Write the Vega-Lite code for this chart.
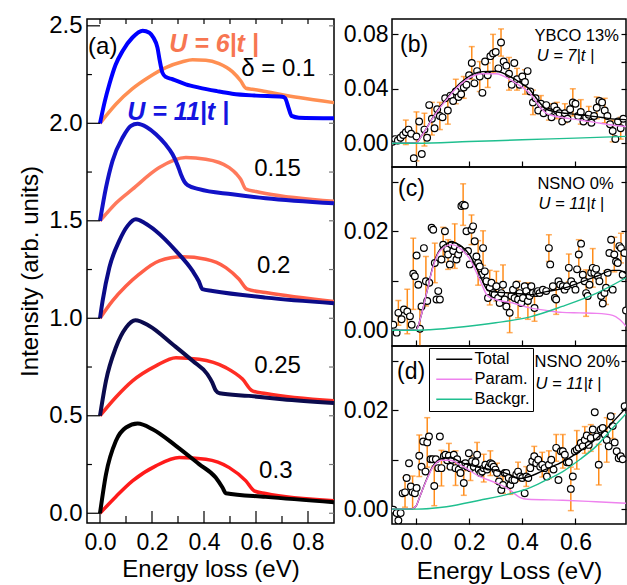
{
"$schema": "https://vega.github.io/schema/vega-lite/v6.json",
"background": "white",
"padding": {"left": 17, "top": 13, "right": 0, "bottom": 0},
"config": {
 "font": "Liberation Sans",
 "view": {"stroke": "black", "strokeWidth": 1.5},
 "axis": {"labelFont": "Liberation Sans", "titleFont": "Liberation Sans", "labelFontSize": 23, "titleFontSize": 24, "titleFontWeight": "normal", "tickColor": "black", "labelColor": "black", "titleColor": "black", "domain": false, "grid": false, "tickWidth": 1.2, "labelFlush": false}
},
"datasets": {
 "th": [
  {"x":-0.05,"x2":0,"y":0},{"x":-0.05,"x2":-0.031,"y":0.25},{"x":-0.05,"x2":0,"y":0.5},{"x":-0.05,"x2":-0.031,"y":0.75},{"x":-0.05,"x2":0,"y":1},{"x":-0.05,"x2":-0.031,"y":1.25},{"x":-0.05,"x2":0,"y":1.5},{"x":-0.05,"x2":-0.031,"y":1.75},{"x":-0.05,"x2":0,"y":2},{"x":-0.05,"x2":-0.031,"y":2.25},{"x":-0.05,"x2":0,"y":2.5}
 ],
 "tg": [
  {"x":0.881,"x2":0.9,"y":0},{"x":0.881,"x2":0.9,"y":0.25},{"x":0.881,"x2":0.9,"y":0.5},{"x":0.881,"x2":0.9,"y":0.75},{"x":0.881,"x2":0.9,"y":1},{"x":0.881,"x2":0.9,"y":1.25},{"x":0.881,"x2":0.9,"y":1.5},{"x":0.881,"x2":0.9,"y":1.75},{"x":0.881,"x2":0.9,"y":2},{"x":0.881,"x2":0.9,"y":2.25},{"x":0.881,"x2":0.9,"y":2.5}
 ],
 "tv": [
  {"x":0,"y":-0.05,"y2":0.012},{"x":0.1,"y":-0.05,"y2":-0.014},{"x":0.2,"y":-0.05,"y2":0.012},{"x":0.3,"y":-0.05,"y2":-0.014},{"x":0.4,"y":-0.05,"y2":0.012},{"x":0.5,"y":-0.05,"y2":-0.014},{"x":0.6,"y":-0.05,"y2":0.012},{"x":0.7,"y":-0.05,"y2":-0.014},{"x":0.8,"y":-0.05,"y2":0.012},
  {"x":0,"y":2.509,"y2":2.535},{"x":0.1,"y":2.509,"y2":2.535},{"x":0.2,"y":2.509,"y2":2.535},{"x":0.3,"y":2.509,"y2":2.535},{"x":0.4,"y":2.509,"y2":2.535},{"x":0.5,"y":2.509,"y2":2.535},{"x":0.6,"y":2.509,"y2":2.535},{"x":0.7,"y":2.509,"y2":2.535},{"x":0.8,"y":2.509,"y2":2.535}
 ],
 "cv": [
  {"s":"a6","x":0,"y":2.0},{"s":"a6","x":0.03,"y":2.05},{"s":"a6","x":0.061,"y":2.098},{"s":"a6","x":0.125,"y":2.178},{"s":"a6","x":0.189,"y":2.238},{"s":"a6","x":0.253,"y":2.286},{"s":"a6","x":0.317,"y":2.316},{"s":"a6","x":0.356,"y":2.326},{"s":"a6","x":0.407,"y":2.324},{"s":"a6","x":0.458,"y":2.306},{"s":"a6","x":0.509,"y":2.265},{"s":"a6","x":0.541,"y":2.218},{"s":"a6","x":0.561,"y":2.18},{"s":"a6","x":0.586,"y":2.175},{"s":"a6","x":0.637,"y":2.163},{"s":"a6","x":0.765,"y":2.132},{"s":"a6","x":0.9,"y":2.106},
  {"s":"b6","x":0,"y":1.5},{"s":"b6","x":0.03,"y":1.545},{"s":"b6","x":0.061,"y":1.59},{"s":"b6","x":0.125,"y":1.662},{"s":"b6","x":0.228,"y":1.773},{"s":"b6","x":0.33,"y":1.824},{"s":"b6","x":0.407,"y":1.816},{"s":"b6","x":0.497,"y":1.773},{"s":"b6","x":0.525,"y":1.74},{"s":"b6","x":0.541,"y":1.713},{"s":"b6","x":0.561,"y":1.662},{"s":"b6","x":0.6,"y":1.65},{"s":"b6","x":0.637,"y":1.64},{"s":"b6","x":0.9,"y":1.6},
  {"s":"c6","x":0,"y":1.0},{"s":"c6","x":0.048,"y":1.089},{"s":"c6","x":0.1,"y":1.165},{"s":"c6","x":0.151,"y":1.226},{"s":"c6","x":0.228,"y":1.294},{"s":"c6","x":0.317,"y":1.315},{"s":"c6","x":0.407,"y":1.303},{"s":"c6","x":0.484,"y":1.26},{"s":"c6","x":0.535,"y":1.2},{"s":"c6","x":0.567,"y":1.149},{"s":"c6","x":0.637,"y":1.132},{"s":"c6","x":0.9,"y":1.086},
  {"s":"d6","x":0,"y":0.5},{"s":"d6","x":0.061,"y":0.595},{"s":"d6","x":0.125,"y":0.679},{"s":"d6","x":0.215,"y":0.756},{"s":"d6","x":0.292,"y":0.798},{"s":"d6","x":0.381,"y":0.79},{"s":"d6","x":0.484,"y":0.747},{"s":"d6","x":0.548,"y":0.688},{"s":"d6","x":0.586,"y":0.628},{"s":"d6","x":0.637,"y":0.614},{"s":"d6","x":0.9,"y":0.577},
  {"s":"e6","x":0,"y":0},{"s":"e6","x":0.061,"y":0.085},{"s":"e6","x":0.125,"y":0.166},{"s":"e6","x":0.215,"y":0.243},{"s":"e6","x":0.305,"y":0.286},{"s":"e6","x":0.407,"y":0.277},{"s":"e6","x":0.497,"y":0.234},{"s":"e6","x":0.561,"y":0.166},{"s":"e6","x":0.593,"y":0.115},{"s":"e6","x":0.637,"y":0.101},{"s":"e6","x":0.9,"y":0.064},
  {"s":"a11","x":0,"y":2.0},{"s":"a11","x":0.018,"y":2.11},{"s":"a11","x":0.036,"y":2.2},{"s":"a11","x":0.06,"y":2.3},{"s":"a11","x":0.087,"y":2.371},{"s":"a11","x":0.125,"y":2.44},{"s":"a11","x":0.164,"y":2.475},{"s":"a11","x":0.19,"y":2.465},{"s":"a11","x":0.205,"y":2.44},{"s":"a11","x":0.221,"y":2.388},{"s":"a11","x":0.23,"y":2.32},{"s":"a11","x":0.24,"y":2.26},{"s":"a11","x":0.253,"y":2.238},{"s":"a11","x":0.279,"y":2.226},{"s":"a11","x":0.33,"y":2.2},{"s":"a11","x":0.381,"y":2.183},{"s":"a11","x":0.45,"y":2.165},{"s":"a11","x":0.508,"y":2.152},{"s":"a11","x":0.6,"y":2.142},{"s":"a11","x":0.701,"y":2.136},{"s":"a11","x":0.712,"y":2.129},{"s":"a11","x":0.725,"y":2.08},{"s":"a11","x":0.737,"y":2.038},{"s":"a11","x":0.765,"y":2.029},{"s":"a11","x":0.9,"y":2.026},
  {"s":"b11","x":0,"y":1.5},{"s":"b11","x":0.023,"y":1.67},{"s":"b11","x":0.048,"y":1.807},{"s":"b11","x":0.087,"y":1.927},{"s":"b11","x":0.119,"y":1.987},{"s":"b11","x":0.144,"y":1.998},{"s":"b11","x":0.18,"y":1.98},{"s":"b11","x":0.215,"y":1.944},{"s":"b11","x":0.25,"y":1.895},{"s":"b11","x":0.279,"y":1.841},{"s":"b11","x":0.3,"y":1.78},{"s":"b11","x":0.311,"y":1.739},{"s":"b11","x":0.325,"y":1.7},{"s":"b11","x":0.337,"y":1.683},{"s":"b11","x":0.381,"y":1.662},{"s":"b11","x":0.509,"y":1.636},{"s":"b11","x":0.637,"y":1.616},{"s":"b11","x":0.9,"y":1.59},
  {"s":"c11","x":0,"y":1.0},{"s":"c11","x":0.01,"y":1.089},{"s":"c11","x":0.036,"y":1.26},{"s":"c11","x":0.074,"y":1.397},{"s":"c11","x":0.106,"y":1.474},{"s":"c11","x":0.138,"y":1.508},{"s":"c11","x":0.17,"y":1.49},{"s":"c11","x":0.215,"y":1.448},{"s":"c11","x":0.292,"y":1.346},{"s":"c11","x":0.356,"y":1.243},{"s":"c11","x":0.38,"y":1.19},{"s":"c11","x":0.394,"y":1.149},{"s":"c11","x":0.433,"y":1.14},{"s":"c11","x":0.637,"y":1.106},{"s":"c11","x":0.9,"y":1.077},
  {"s":"d11","x":0,"y":0.5},{"s":"d11","x":0.023,"y":0.679},{"s":"d11","x":0.061,"y":0.85},{"s":"d11","x":0.1,"y":0.952},{"s":"d11","x":0.136,"y":0.99},{"s":"d11","x":0.19,"y":0.961},{"s":"d11","x":0.279,"y":0.867},{"s":"d11","x":0.356,"y":0.782},{"s":"d11","x":0.413,"y":0.713},{"s":"d11","x":0.432,"y":0.67},{"s":"d11","x":0.445,"y":0.63},{"s":"d11","x":0.46,"y":0.615},{"s":"d11","x":0.573,"y":0.602},{"s":"d11","x":0.701,"y":0.585},{"s":"d11","x":0.9,"y":0.565},
  {"s":"e11","x":0,"y":0},{"s":"e11","x":0.023,"y":0.2},{"s":"e11","x":0.061,"y":0.371},{"s":"e11","x":0.1,"y":0.44},{"s":"e11","x":0.145,"y":0.46},{"s":"e11","x":0.202,"y":0.431},{"s":"e11","x":0.292,"y":0.346},{"s":"e11","x":0.381,"y":0.252},{"s":"e11","x":0.445,"y":0.183},{"s":"e11","x":0.471,"y":0.132},{"s":"e11","x":0.484,"y":0.103},{"s":"e11","x":0.637,"y":0.084},{"s":"e11","x":0.9,"y":0.057}
 ],
 "la": [
  {"x":-0.046,"y":2.392,"t":"(a)"},{"x":0.543,"y":2.276,"t":"δ = 0.1"},{"x":0.593,"y":1.764,"t":"0.15"},{"x":0.604,"y":1.269,"t":"0.2"},{"x":0.593,"y":0.756,"t":"0.25"},{"x":0.612,"y":0.217,"t":"0.3"}
 ],
 "lb": [
  {"k":"Total","x":-0.09,"y":0},{"k":"Total","x":0,"y":0},{"k":"Total","x":0.02,"y":0.005},{"k":"Total","x":0.04,"y":0.011},{"k":"Total","x":0.065,"y":0.0194},{"k":"Total","x":0.09,"y":0.0266},{"k":"Total","x":0.115,"y":0.0327},{"k":"Total","x":0.14,"y":0.0389},{"k":"Total","x":0.19,"y":0.0479},{"k":"Total","x":0.25,"y":0.0526},{"k":"Total","x":0.3,"y":0.0529},{"k":"Total","x":0.365,"y":0.0478},{"k":"Total","x":0.4,"y":0.0435},{"k":"Total","x":0.4275,"y":0.0397},{"k":"Total","x":0.45,"y":0.0338},{"k":"Total","x":0.465,"y":0.0299},{"k":"Total","x":0.49,"y":0.0251},{"k":"Total","x":0.52,"y":0.0233},{"k":"Total","x":0.56,"y":0.022},{"k":"Total","x":0.6,"y":0.0213},{"k":"Total","x":0.65,"y":0.0201},{"k":"Total","x":0.7,"y":0.0189},{"k":"Total","x":0.75,"y":0.0177},{"k":"Total","x":0.79,"y":0.0173},
  {"k":"Param.","x":-0.09,"y":0},{"k":"Param.","x":0,"y":0},{"k":"Param.","x":0.02,"y":0.005},{"k":"Param.","x":0.04,"y":0.011},{"k":"Param.","x":0.065,"y":0.019},{"k":"Param.","x":0.09,"y":0.026},{"k":"Param.","x":0.115,"y":0.032},{"k":"Param.","x":0.14,"y":0.038},{"k":"Param.","x":0.19,"y":0.0467},{"k":"Param.","x":0.25,"y":0.051},{"k":"Param.","x":0.3,"y":0.051},{"k":"Param.","x":0.365,"y":0.0455},{"k":"Param.","x":0.4,"y":0.041},{"k":"Param.","x":0.4275,"y":0.037},{"k":"Param.","x":0.45,"y":0.031},{"k":"Param.","x":0.465,"y":0.027},{"k":"Param.","x":0.49,"y":0.022},{"k":"Param.","x":0.52,"y":0.02},{"k":"Param.","x":0.56,"y":0.0185},{"k":"Param.","x":0.6,"y":0.0175},{"k":"Param.","x":0.65,"y":0.016},{"k":"Param.","x":0.7,"y":0.0145},{"k":"Param.","x":0.75,"y":0.013},{"k":"Param.","x":0.79,"y":0.0123},
  {"k":"Backgr.","x":-0.09,"y":0},{"k":"Backgr.","x":0,"y":0},{"k":"Backgr.","x":0.2,"y":0.0012},{"k":"Backgr.","x":0.4,"y":0.0025},{"k":"Backgr.","x":0.6,"y":0.0037},{"k":"Backgr.","x":0.79,"y":0.005}
 ],
 "lc": [
  {"k":"Total","x":-0.09,"y":0},{"k":"Total","x":0,"y":0},{"k":"Total","x":0.02,"y":0.003},{"k":"Total","x":0.04,"y":0.0075},{"k":"Total","x":0.065,"y":0.0131},{"k":"Total","x":0.09,"y":0.0163},{"k":"Total","x":0.134,"y":0.0178},{"k":"Total","x":0.165,"y":0.0172},{"k":"Total","x":0.2,"y":0.0154},{"k":"Total","x":0.24,"y":0.0112},{"k":"Total","x":0.27,"y":0.0081},{"k":"Total","x":0.3,"y":0.0077},{"k":"Total","x":0.365,"y":0.0075},{"k":"Total","x":0.43,"y":0.0072},{"k":"Total","x":0.49,"y":0.0078},{"k":"Total","x":0.55,"y":0.0084},{"k":"Total","x":0.615,"y":0.0096},{"k":"Total","x":0.68,"y":0.0109},{"k":"Total","x":0.74,"y":0.0121},{"k":"Total","x":0.765,"y":0.0121},{"k":"Total","x":0.79,"y":0.0114},
  {"k":"Param.","x":-0.09,"y":0},{"k":"Param.","x":0,"y":0},{"k":"Param.","x":0.02,"y":0.003},{"k":"Param.","x":0.04,"y":0.0075},{"k":"Param.","x":0.065,"y":0.0129},{"k":"Param.","x":0.09,"y":0.016},{"k":"Param.","x":0.134,"y":0.0173},{"k":"Param.","x":0.165,"y":0.0166},{"k":"Param.","x":0.2,"y":0.0146},{"k":"Param.","x":0.24,"y":0.0102},{"k":"Param.","x":0.27,"y":0.0069},{"k":"Param.","x":0.3,"y":0.0062},{"k":"Param.","x":0.365,"y":0.0055},{"k":"Param.","x":0.43,"y":0.0045},{"k":"Param.","x":0.49,"y":0.004},{"k":"Param.","x":0.55,"y":0.0036},{"k":"Param.","x":0.615,"y":0.0035},{"k":"Param.","x":0.68,"y":0.0034},{"k":"Param.","x":0.74,"y":0.003},{"k":"Param.","x":0.765,"y":0.0022},{"k":"Param.","x":0.79,"y":0.0008},
  {"k":"Backgr.","x":-0.09,"y":0},{"k":"Backgr.","x":0,"y":0},{"k":"Backgr.","x":0.0525,"y":0.0001},{"k":"Backgr.","x":0.18,"y":0.0007},{"k":"Backgr.","x":0.3,"y":0.0015},{"k":"Backgr.","x":0.43,"y":0.0027},{"k":"Backgr.","x":0.55,"y":0.0048},{"k":"Backgr.","x":0.68,"y":0.0075},{"k":"Backgr.","x":0.79,"y":0.0106}
 ],
 "ld": [
  {"k":"Total","x":-0.09,"y":0},{"k":"Total","x":-0.02,"y":0},{"k":"Total","x":0,"y":0.0006},{"k":"Total","x":0.015,"y":0.0026},{"k":"Total","x":0.04,"y":0.006},{"k":"Total","x":0.065,"y":0.0088},{"k":"Total","x":0.096,"y":0.0102},{"k":"Total","x":0.1275,"y":0.0104},{"k":"Total","x":0.1775,"y":0.0093},{"k":"Total","x":0.24,"y":0.0084},{"k":"Total","x":0.3025,"y":0.0078},{"k":"Total","x":0.3525,"y":0.007},{"k":"Total","x":0.39,"y":0.0062},{"k":"Total","x":0.42,"y":0.0065},{"k":"Total","x":0.49,"y":0.0081},{"k":"Total","x":0.5525,"y":0.0096},{"k":"Total","x":0.615,"y":0.0117},{"k":"Total","x":0.6775,"y":0.0142},{"k":"Total","x":0.74,"y":0.0176},{"k":"Total","x":0.79,"y":0.0205},
  {"k":"Param.","x":-0.09,"y":0},{"k":"Param.","x":-0.02,"y":0},{"k":"Param.","x":0,"y":0.0006},{"k":"Param.","x":0.015,"y":0.0026},{"k":"Param.","x":0.04,"y":0.0059},{"k":"Param.","x":0.065,"y":0.0086},{"k":"Param.","x":0.096,"y":0.0099},{"k":"Param.","x":0.1275,"y":0.0099},{"k":"Param.","x":0.1775,"y":0.0086},{"k":"Param.","x":0.24,"y":0.0066},{"k":"Param.","x":0.3025,"y":0.0053},{"k":"Param.","x":0.3525,"y":0.0039},{"k":"Param.","x":0.39,"y":0.0024},{"k":"Param.","x":0.42,"y":0.002},{"k":"Param.","x":0.5525,"y":0.0018},{"k":"Param.","x":0.6775,"y":0.0015},{"k":"Param.","x":0.79,"y":0.0012},
  {"k":"Backgr.","x":-0.09,"y":0},{"k":"Backgr.","x":0,"y":0},{"k":"Backgr.","x":0.115,"y":0.0005},{"k":"Backgr.","x":0.24,"y":0.0018},{"k":"Backgr.","x":0.3525,"y":0.0031},{"k":"Backgr.","x":0.4275,"y":0.0043},{"k":"Backgr.","x":0.49,"y":0.0059},{"k":"Backgr.","x":0.5525,"y":0.0076},{"k":"Backgr.","x":0.615,"y":0.01},{"k":"Backgr.","x":0.6775,"y":0.0127},{"k":"Backgr.","x":0.74,"y":0.0164},{"k":"Backgr.","x":0.79,"y":0.0193}
 ],
 "pb": [
  {"x":-0.088,"y":0.001},{"x":-0.078,"y":0.003},{"x":-0.068,"y":0.002},{"x":-0.058,"y":0.004},{"x":-0.048,"y":0.006},{"x":-0.038,"y":0.008,"e":0.009},{"x":-0.028,"y":0.01},{"x":-0.018,"y":0.007},{"x":-0.008,"y":-0.011},{"x":0.002,"y":0.005,"e":0.018},{"x":0.012,"y":0.016},{"x":0.022,"y":-0.008},{"x":0.032,"y":0.01,"e":0.012},{"x":0.042,"y":0.004},{"x":0.05,"y":0.028},{"x":0.06,"y":0.018,"e":0.012},{"x":0.07,"y":0.011},{"x":0.08,"y":0.025},{"x":0.09,"y":0.02,"e":0.01},{"x":0.1,"y":0.019},{"x":0.11,"y":0.033},{"x":0.12,"y":0.024,"e":0.01},{"x":0.13,"y":0.035},{"x":0.14,"y":0.031},{"x":0.15,"y":0.038,"e":0.009},{"x":0.16,"y":0.034},{"x":0.17,"y":0.036},{"x":0.18,"y":0.041,"e":0.008},{"x":0.19,"y":0.043},{"x":0.2,"y":0.05},{"x":0.21,"y":0.059,"e":0.012},{"x":0.22,"y":0.044},{"x":0.23,"y":0.053},{"x":0.24,"y":0.049,"e":0.011},{"x":0.25,"y":0.037},{"x":0.26,"y":0.06},{"x":0.27,"y":0.05,"e":0.009},{"x":0.28,"y":0.064},{"x":0.29,"y":0.066,"e":0.014},{"x":0.3,"y":0.067},{"x":0.31,"y":0.055},{"x":0.32,"y":0.074,"e":0.01},{"x":0.33,"y":0.06},{"x":0.34,"y":0.057},{"x":0.35,"y":0.051,"e":0.012},{"x":0.36,"y":0.043},{"x":0.37,"y":0.059},{"x":0.38,"y":0.047,"e":0.008},{"x":0.39,"y":0.043},{"x":0.4,"y":0.049},{"x":0.41,"y":0.045,"e":0.009},{"x":0.42,"y":0.053},{"x":0.43,"y":0.038},{"x":0.44,"y":0.03,"e":0.009},{"x":0.45,"y":0.033},{"x":0.46,"y":0.024},{"x":0.47,"y":0.029,"e":0.006},{"x":0.48,"y":0.022},{"x":0.49,"y":0.028},{"x":0.5,"y":0.023,"e":0.006},{"x":0.51,"y":0.019},{"x":0.52,"y":0.027},{"x":0.53,"y":0.024,"e":0.006},{"x":0.54,"y":0.022},{"x":0.55,"y":0.016},{"x":0.56,"y":0.022,"e":0.007},{"x":0.57,"y":0.018},{"x":0.58,"y":0.025},{"x":0.59,"y":0.03,"e":0.01},{"x":0.6,"y":0.029},{"x":0.61,"y":0.02},{"x":0.62,"y":0.023,"e":0.009},{"x":0.63,"y":0.016},{"x":0.64,"y":0.019},{"x":0.65,"y":0.021,"e":0.006},{"x":0.66,"y":0.015},{"x":0.67,"y":0.02},{"x":0.68,"y":0.026,"e":0.008},{"x":0.69,"y":0.031},{"x":0.7,"y":0.03},{"x":0.71,"y":0.024,"e":0.009},{"x":0.72,"y":0.02},{"x":0.73,"y":0.014},{"x":0.74,"y":0.009,"e":0.008},{"x":0.75,"y":0.003},{"x":0.76,"y":0.016},{"x":0.77,"y":0.011,"e":0.008},{"x":0.78,"y":0.018}
 ],
 "pc": [
  {"x":-0.085,"y":0.0011},{"x":-0.0725,"y":-0.0005},{"x":-0.066,"y":0.0035,"e":0.0025},{"x":-0.054,"y":0.0022},{"x":-0.045,"y":0.0042},{"x":-0.0325,"y":0.0038,"e":0.0045},{"x":-0.0225,"y":0.0028},{"x":-0.016,"y":0.0011},{"x":-0.01,"y":0.0114,"e":0.0072},{"x":-0.004,"y":0.0109},{"x":0.0025,"y":0.0151},{"x":0.009,"y":0.0092},{"x":0.015,"y":0.0003,"e":0.004},{"x":0.021,"y":0.0048},{"x":0.03,"y":0.0166},{"x":0.0375,"y":0.0099,"e":0.005},{"x":0.0425,"y":0.0059},{"x":0.05,"y":0.0096},{"x":0.059,"y":0.0207},{"x":0.065,"y":0.0203},{"x":0.071,"y":0.0136,"e":0.004},{"x":0.0775,"y":0.0062},{"x":0.084,"y":0.0079},{"x":0.09,"y":0.0062},{"x":0.096,"y":0.0143},{"x":0.1025,"y":0.0173,"e":0.0035},{"x":0.109,"y":0.02},{"x":0.1175,"y":0.0163},{"x":0.121,"y":0.0153,"e":0.003},{"x":0.1275,"y":0.0133},{"x":0.134,"y":0.0173},{"x":0.14,"y":0.016},{"x":0.146,"y":0.017,"e":0.0045},{"x":0.1525,"y":0.0143},{"x":0.159,"y":0.0153},{"x":0.165,"y":0.0163},{"x":0.171,"y":0.0251},{"x":0.1775,"y":0.0254,"e":0.0042},{"x":0.184,"y":0.0252},{"x":0.19,"y":0.02},{"x":0.196,"y":0.016},{"x":0.2025,"y":0.0133},{"x":0.209,"y":0.0203,"e":0.003},{"x":0.215,"y":0.021},{"x":0.221,"y":0.018},{"x":0.2275,"y":0.0149},{"x":0.234,"y":0.0136,"e":0.0045},{"x":0.24,"y":0.0129},{"x":0.246,"y":0.0112},{"x":0.2525,"y":0.0166,"e":0.0035},{"x":0.259,"y":0.0119},{"x":0.265,"y":0.0099},{"x":0.271,"y":0.0065},{"x":0.2775,"y":0.0086,"e":0.0035},{"x":0.284,"y":0.0096},{"x":0.29,"y":0.0075},{"x":0.296,"y":0.0072},{"x":0.3025,"y":0.0089,"e":0.003},{"x":0.309,"y":0.0065},{"x":0.315,"y":0.0055},{"x":0.321,"y":0.0075},{"x":0.3275,"y":0.0092,"e":0.004},{"x":0.334,"y":0.0062},{"x":0.34,"y":0.0048},{"x":0.3525,"y":0.0035,"e":0.004},{"x":0.359,"y":0.0069},{"x":0.365,"y":0.0082},{"x":0.371,"y":0.0065},{"x":0.3775,"y":0.0092},{"x":0.384,"y":0.0062,"e":0.0037},{"x":0.39,"y":0.0075},{"x":0.396,"y":0.0055},{"x":0.4025,"y":0.0065},{"x":0.409,"y":0.0089},{"x":0.415,"y":0.0079},{"x":0.421,"y":0.0059,"e":0.0037},{"x":0.4275,"y":0.0069},{"x":0.434,"y":0.0089},{"x":0.44,"y":0.0075},{"x":0.446,"y":0.0045,"e":0.0027},{"x":0.4525,"y":0.0075},{"x":0.459,"y":0.0079},{"x":0.465,"y":0.0075},{"x":0.4775,"y":0.0082},{"x":0.49,"y":0.0079},{"x":0.5,"y":0.0166,"e":0.0027},{"x":0.505,"y":0.0133},{"x":0.515,"y":0.0089},{"x":0.5225,"y":0.0065},{"x":0.5275,"y":0.0062,"e":0.003},{"x":0.536,"y":0.0099},{"x":0.5425,"y":0.0092},{"x":0.5525,"y":0.0089},{"x":0.559,"y":0.0082},{"x":0.5675,"y":0.0089},{"x":0.575,"y":0.0126,"e":0.0028},{"x":0.584,"y":0.0099},{"x":0.5925,"y":0.0092},{"x":0.6,"y":0.0082},{"x":0.606,"y":0.0123},{"x":0.6125,"y":0.0153,"e":0.003},{"x":0.621,"y":0.0175},{"x":0.6275,"y":0.0112},{"x":0.634,"y":0.0099},{"x":0.64,"y":0.0075,"e":0.0047},{"x":0.646,"y":0.0069},{"x":0.6525,"y":0.0092},{"x":0.659,"y":0.0116},{"x":0.665,"y":0.0126,"e":0.0039},{"x":0.671,"y":0.0116},{"x":0.6775,"y":0.0124},{"x":0.684,"y":0.0109},{"x":0.69,"y":0.0099},{"x":0.6965,"y":0.0069},{"x":0.7025,"y":0.0054},{"x":0.709,"y":0.0075},{"x":0.715,"y":0.0086,"e":0.0034},{"x":0.721,"y":0.0116},{"x":0.7275,"y":0.0156},{"x":0.734,"y":0.0183},{"x":0.74,"y":0.0082},{"x":0.746,"y":0.0153,"e":0.0035},{"x":0.7525,"y":0.0139},{"x":0.759,"y":0.0136},{"x":0.765,"y":0.017},{"x":0.771,"y":0.0166,"e":0.003},{"x":0.7775,"y":0.0112},{"x":0.784,"y":0.0156},{"x":0.79,"y":0.004}
 ],
 "pd": [
  {"x":-0.085,"y":-0.0001},{"x":-0.0725,"y":-0.0008},{"x":-0.066,"y":-0.0023},{"x":-0.0575,"y":-0.0008},{"x":-0.05,"y":0.0032},{"x":-0.041,"y":0.0034,"e":0.003},{"x":-0.035,"y":0.0063},{"x":-0.026,"y":0.0093},{"x":-0.019,"y":0.0046},{"x":-0.0125,"y":0.0034,"e":0.0033},{"x":-0.004,"y":0.0032},{"x":0.0025,"y":0.0043},{"x":0.0125,"y":0.0108,"e":0.0042},{"x":0.021,"y":0.0086},{"x":0.0275,"y":0.0137},{"x":0.036,"y":0.0076},{"x":0.0425,"y":0.0135,"e":0.005},{"x":0.049,"y":0.0147},{"x":0.055,"y":0.0101},{"x":0.0625,"y":0.0101},{"x":0.069,"y":0.0047,"e":0.004},{"x":0.075,"y":0.0101},{"x":0.084,"y":0.0083},{"x":0.09,"y":0.0147},{"x":0.096,"y":0.0083,"e":0.0036},{"x":0.105,"y":0.0107},{"x":0.111,"y":0.011},{"x":0.1175,"y":0.0099},{"x":0.124,"y":0.0108,"e":0.0025},{"x":0.13,"y":0.0086},{"x":0.136,"y":0.01},{"x":0.1425,"y":0.011},{"x":0.149,"y":0.0083,"e":0.0035},{"x":0.155,"y":0.0101},{"x":0.161,"y":0.008},{"x":0.1675,"y":0.0073},{"x":0.174,"y":0.009},{"x":0.18,"y":0.0053,"e":0.0025},{"x":0.186,"y":0.0093},{"x":0.1925,"y":0.0086},{"x":0.199,"y":0.0113},{"x":0.205,"y":0.0083,"e":0.0025},{"x":0.211,"y":0.0097},{"x":0.2175,"y":0.0086},{"x":0.224,"y":0.0095},{"x":0.23,"y":0.011,"e":0.0025},{"x":0.236,"y":0.008},{"x":0.2425,"y":0.0073},{"x":0.249,"y":0.0076},{"x":0.255,"y":0.0083,"e":0.0028},{"x":0.261,"y":0.009},{"x":0.2675,"y":0.008},{"x":0.274,"y":0.0086},{"x":0.28,"y":0.0093,"e":0.0025},{"x":0.286,"y":0.0091},{"x":0.2925,"y":0.0086},{"x":0.299,"y":0.008},{"x":0.305,"y":0.0073,"e":0.002},{"x":0.3125,"y":0.0056},{"x":0.321,"y":0.0039},{"x":0.3275,"y":0.0049,"e":0.0017},{"x":0.334,"y":0.0073},{"x":0.34,"y":0.0073},{"x":0.349,"y":0.0063},{"x":0.355,"y":0.0049,"e":0.0019},{"x":0.3625,"y":0.0059},{"x":0.371,"y":0.0059},{"x":0.3775,"y":0.007},{"x":0.384,"y":0.0076,"e":0.0019},{"x":0.3925,"y":0.0066},{"x":0.4,"y":0.0063},{"x":0.409,"y":0.0032},{"x":0.415,"y":0.0066,"e":0.002},{"x":0.4225,"y":0.0063},{"x":0.43,"y":0.0083},{"x":0.4375,"y":0.0097},{"x":0.445,"y":0.0107,"e":0.002},{"x":0.4525,"y":0.0093},{"x":0.46,"y":0.01},{"x":0.4675,"y":0.0086},{"x":0.475,"y":0.009,"e":0.0025},{"x":0.484,"y":0.0083},{"x":0.4925,"y":0.0066},{"x":0.5,"y":0.009,"e":0.0028},{"x":0.509,"y":0.01},{"x":0.5175,"y":0.008},{"x":0.5275,"y":0.0124,"e":0.0027},{"x":0.536,"y":0.0059},{"x":0.545,"y":0.0117},{"x":0.5525,"y":0.0117,"e":0.0034},{"x":0.56,"y":0.011},{"x":0.5675,"y":0.0095},{"x":0.575,"y":0.0095},{"x":0.5825,"y":0.0041,"e":0.0044},{"x":0.59,"y":0.0066},{"x":0.5975,"y":0.0117},{"x":0.605,"y":0.012,"e":0.0039},{"x":0.6125,"y":0.0124},{"x":0.62,"y":0.0134},{"x":0.6275,"y":0.0127},{"x":0.635,"y":0.014,"e":0.0027},{"x":0.6425,"y":0.0149},{"x":0.65,"y":0.013},{"x":0.6575,"y":0.0144,"e":0.0027},{"x":0.665,"y":0.0161},{"x":0.6725,"y":0.0196},{"x":0.68,"y":0.0147},{"x":0.6875,"y":0.009,"e":0.0041},{"x":0.695,"y":0.0161},{"x":0.7025,"y":0.0164},{"x":0.71,"y":0.0151},{"x":0.7175,"y":0.014,"e":0.0045},{"x":0.725,"y":0.0127},{"x":0.7325,"y":0.0188},{"x":0.74,"y":0.0168,"e":0.0025},{"x":0.7475,"y":0.0135},{"x":0.755,"y":0.0117},{"x":0.7625,"y":0.0103},{"x":0.77,"y":0.0107},{"x":0.7775,"y":0.0101},{"x":0.785,"y":0.0208}
 ]
},
"resolve": {"scale": {"color": "independent"}},
"bounds": "flush",
"spacing": 58,
"hconcat": [
 {
  "width": 247, "height": 504,
  "view": {"stroke": "black", "strokeWidth": 1.5},
  "encoding": {
   "x": {"field": "x", "type": "quantitative", "scale": {"domain": [-0.05, 0.9], "nice": false, "zero": false}},
   "y": {"field": "y", "type": "quantitative", "scale": {"domain": [-0.05, 2.535], "nice": false, "zero": false}}
  },
  "layer": [
   {"data": {"name": "cv"}, "transform": [{"filter": "indexof(datum.s,'6') > 0"}],
    "mark": {"type": "line", "strokeWidth": 3.5, "interpolate": "monotone", "clip": true},
    "encoding": {
     "x": {"field": "x", "type": "quantitative", "axis": {"orient": "bottom", "values": [0,0.2,0.4,0.6,0.8], "format": ".1f", "ticks": false, "labelPadding": 8, "title": "Energy loss (eV)", "titlePadding": 3}},
     "y": {"field": "y", "type": "quantitative", "axis": {"orient": "left", "values": [0,0.5,1,1.5,2,2.5], "format": ".1f", "ticks": false, "labelPadding": 5, "labelFontSize": 24, "title": "Intensity (arb. units)", "titlePadding": 6}},
     "color": {"field": "s", "type": "nominal", "legend": null, "scale": {"domain": ["a6","b6","c6","d6","e6","a11","b11","c11","d11","e11"], "range": ["#ff8f52","#ff7a5c","#ff5f48","#ff2d24","#ff1a1a","#0000ff","#1212c8","#0b0b88","#0b0b4e","#000000"]}}
    }},
   {"data": {"name": "cv"}, "transform": [{"filter": "indexof(datum.s,'11') > 0"}],
    "mark": {"type": "line", "strokeWidth": 4, "interpolate": "monotone", "clip": true},
    "encoding": {
     "color": {"field": "s", "type": "nominal", "legend": null}
    }},
   {"data": {"values": [{}]}, "mark": {"type": "rule", "color": "black", "strokeWidth": 1.3},
    "encoding": {"x": {"datum": 0}, "y": {"datum": 0}, "y2": {"datum": 2.33}}},
   {"data": {"values": [{}]}, "mark": {"type": "rule", "color": "black", "strokeWidth": 1.3},
    "encoding": {"y": {"datum": 0}}},
   {"data": {"values": [{}]}, "mark": {"type": "rule", "color": "#222222", "strokeWidth": 1.5},
    "encoding": {"y": {"datum": -0.046}}},
   {"data": {"values": [{}]}, "mark": {"type": "rule", "color": "#222222", "strokeWidth": 1.5},
    "encoding": {"y": {"datum": 2.531}}},
   {"data": {"values": [{}]}, "mark": {"type": "rule", "color": "#222222", "strokeWidth": 1.5},
    "encoding": {"x": {"datum": -0.047}}},
   {"data": {"values": [{}]}, "mark": {"type": "rule", "color": "#222222", "strokeWidth": 1.5},
    "encoding": {"x": {"datum": 0.897}}},
   {"data": {"name": "th"}, "mark": {"type": "rule", "color": "black", "strokeWidth": 1.2},
    "encoding": {"x2": {"field": "x2"}}},
   {"data": {"name": "tg"}, "mark": {"type": "rule", "color": "#777777", "strokeWidth": 1.2},
    "encoding": {"x2": {"field": "x2"}}},
   {"data": {"name": "tv"}, "mark": {"type": "rule", "color": "black", "strokeWidth": 1.2},
    "encoding": {"y2": {"field": "y2"}}},
   {"data": {"name": "la"}, "mark": {"type": "text", "align": "left", "baseline": "middle", "fontSize": 24, "color": "black"},
    "encoding": {"text": {"field": "t"}}},
   {"data": {"values": [{"x": 0.266, "y": 2.405, "t": "U = 6|t |"}]}, "mark": {"type": "text", "align": "left", "baseline": "middle", "fontSize": 25, "fontWeight": "bold", "fontStyle": "italic", "color": "#f77652"},
    "encoding": {"text": {"field": "t"}}},
   {"data": {"values": [{"x": 0.105, "y": 2.056, "t": "U = 11|t |"}]}, "mark": {"type": "text", "align": "left", "baseline": "middle", "fontSize": 25, "fontWeight": "bold", "fontStyle": "italic", "color": "#1515e0"},
    "encoding": {"text": {"field": "t"}}}
  ]
 },
 {
  "spacing": 0,
  "bounds": "flush",
  "resolve": {"scale": {"color": "independent"}},
  "vconcat": [
   {
    "width": 234, "height": 148,
    "resolve": {"axis": {"x": "independent", "y": "independent"}},
    "layer": [
     {
      "encoding": {
       "x": {"field": "x", "type": "quantitative", "scale": {"domain": [-0.09, 0.79], "nice": false, "zero": false}},
       "y": {"field": "y", "type": "quantitative", "scale": {"domain": [-0.0175, 0.0913], "nice": false, "zero": false}}
      },
      "layer": [
       {"data": {"name": "pb"}, "transform": [{"filter": "isValid(datum.e)"}],
        "mark": {"type": "errorbar", "color": "#ff8c1a", "thickness": 1.5, "ticks": {"size": 6, "color": "#ff8c1a", "thickness": 1.5}},
        "encoding": {
         "x": {"field": "x", "type": "quantitative", "axis": {"orient": "bottom", "values": [0,0.1,0.2,0.3,0.4,0.5,0.6,0.7], "labels": false, "tickSize": -6, "title": null}},
         "y": {"field": "y", "type": "quantitative", "axis": {"orient": "left", "values": [0,0.02,0.04,0.06,0.08], "labelExpr": "(datum.value==0.02||datum.value==0.06) ? '' : format(datum.value,'.2f')", "tickSize": -6, "labelPadding": 10, "title": null}},
         "yError": {"field": "e"}
        }},
       {"data": {"name": "pb"}, "mark": {"type": "point", "shape": "circle", "size": 45, "filled": true, "fill": "white", "stroke": "black", "strokeWidth": 1.2, "opacity": 1, "clip": true}},
       {"data": {"values": [{}]}, "mark": {"type": "rule", "color": "black", "strokeWidth": 1.3},
        "encoding": {"y": {"datum": 0}}},
       {"data": {"values": [{}]}, "mark": {"type": "rule", "color": "black", "strokeWidth": 1.3},
        "encoding": {"x": {"datum": 0}, "y": {"datum": -0.0175}, "y2": {"datum": 0.048}}},
       {"data": {"values": [{}]}, "mark": {"type": "rule", "color": "#222222", "strokeWidth": 1},
        "encoding": {"x": {"datum": 0.787}}},
       {"data": {"name": "lb"}, "mark": {"type": "line", "strokeWidth": 1.4, "interpolate": "monotone", "clip": true},
        "encoding": {"color": {"field": "k", "type": "nominal", "legend": null, "scale": {"domain": ["Total","Param.","Backgr."], "range": ["#000000","#ee82ee","#1fbf8f"]}}, "order": {"field": "x", "type": "quantitative"}}},
       {"data": {"values": [{"x": -0.06, "y": 0.0721, "t": "(b)"}]}, "mark": {"type": "text", "align": "left", "baseline": "middle", "fontSize": 23, "color": "black"}, "encoding": {"text": {"field": "t"}}},
       {"data": {"values": [{"x": 0.446, "y": 0.0791, "t": "YBCO 13%"}]}, "mark": {"type": "text", "align": "left", "baseline": "middle", "fontSize": 16.5, "color": "black"}, "encoding": {"text": {"field": "t"}}},
       {"data": {"values": [{"x": 0.454, "y": 0.064, "t": "U = 7|t |"}]}, "mark": {"type": "text", "align": "left", "baseline": "middle", "fontSize": 16.5, "fontStyle": "italic", "color": "black"}, "encoding": {"text": {"field": "t"}}}
      ]
     },
     {"data": {"values": [{"x": 0, "y": 0}]}, "mark": {"type": "point", "opacity": 0},
      "encoding": {
       "x": {"field": "x", "type": "quantitative", "axis": null},
       "y": {"field": "y", "type": "quantitative", "axis": {"orient": "right", "values": [0,0.02,0.04,0.06,0.08], "labels": false, "tickSize": -5, "title": null}}
      }}
    ]
   },
   {
    "width": 234, "height": 179,
    "resolve": {"axis": {"x": "independent", "y": "independent"}},
    "layer": [
     {
      "encoding": {
       "x": {"field": "x", "type": "quantitative", "scale": {"domain": [-0.09, 0.79], "nice": false, "zero": false}},
       "y": {"field": "y", "type": "quantitative", "scale": {"domain": [-0.0032, 0.033], "nice": false, "zero": false}}
      },
      "layer": [
       {"data": {"name": "pc"}, "transform": [{"filter": "isValid(datum.e)"}],
        "mark": {"type": "errorbar", "color": "#ff8c1a", "thickness": 1.5, "ticks": {"size": 6, "color": "#ff8c1a", "thickness": 1.5}, "clip": true},
        "encoding": {
         "x": {"field": "x", "type": "quantitative", "axis": {"orient": "bottom", "values": [0,0.1,0.2,0.3,0.4,0.5,0.6,0.7], "labels": false, "tickSize": -6, "title": null}},
         "y": {"field": "y", "type": "quantitative", "axis": {"orient": "left", "values": [0,0.01,0.02,0.03], "labelExpr": "(datum.value==0.01||datum.value==0.03) ? '' : format(datum.value,'.2f')", "tickSize": -6, "labelPadding": 10, "title": null}},
         "yError": {"field": "e"}
        }},
       {"data": {"name": "pc"}, "mark": {"type": "point", "shape": "circle", "size": 45, "filled": true, "fill": "white", "stroke": "black", "strokeWidth": 1.2, "opacity": 1, "clip": true}},
       {"data": {"values": [{}]}, "mark": {"type": "rule", "color": "black", "strokeWidth": 1.3},
        "encoding": {"y": {"datum": 0}}},
       {"data": {"values": [{}]}, "mark": {"type": "rule", "color": "black", "strokeWidth": 1.3},
        "encoding": {"x": {"datum": 0}, "y": {"datum": -0.0032}, "y2": {"datum": 0.024}}},
       {"data": {"values": [{}]}, "mark": {"type": "rule", "color": "#222222", "strokeWidth": 1},
        "encoding": {"x": {"datum": 0.787}}},
       {"data": {"name": "lc"}, "mark": {"type": "line", "strokeWidth": 1.4, "interpolate": "monotone", "clip": true},
        "encoding": {"color": {"field": "k", "type": "nominal", "legend": null, "scale": {"domain": ["Total","Param.","Backgr."], "range": ["#000000","#ee82ee","#1fbf8f"]}}, "order": {"field": "x", "type": "quantitative"}}},
       {"data": {"values": [{"x": -0.0675, "y": 0.0286, "t": "(c)"}]}, "mark": {"type": "text", "align": "left", "baseline": "middle", "fontSize": 23, "color": "black"}, "encoding": {"text": {"field": "t"}}},
       {"data": {"values": [{"x": 0.457, "y": 0.0296, "t": "NSNO 0%"}]}, "mark": {"type": "text", "align": "left", "baseline": "middle", "fontSize": 16.5, "color": "black"}, "encoding": {"text": {"field": "t"}}},
       {"data": {"values": [{"x": 0.461, "y": 0.0256, "t": "U = 11|t |"}]}, "mark": {"type": "text", "align": "left", "baseline": "middle", "fontSize": 16.5, "fontStyle": "italic", "color": "black"}, "encoding": {"text": {"field": "t"}}}
      ]
     },
     {"data": {"values": [{"x": 0, "y": 0}]}, "mark": {"type": "point", "opacity": 0},
      "encoding": {
       "x": {"field": "x", "type": "quantitative", "axis": null},
       "y": {"field": "y", "type": "quantitative", "axis": {"orient": "right", "values": [0,0.01,0.02,0.03], "labels": false, "tickSize": -5, "title": null}}
      }}
    ]
   },
   {
    "width": 234, "height": 178,
    "resolve": {"axis": {"x": "independent", "y": "independent"}},
    "layer": [
     {
      "encoding": {
       "x": {"field": "x", "type": "quantitative", "scale": {"domain": [-0.09, 0.79], "nice": false, "zero": false}},
       "y": {"field": "y", "type": "quantitative", "scale": {"domain": [-0.003, 0.033], "nice": false, "zero": false}}
      },
      "layer": [
       {"data": {"name": "pd"}, "transform": [{"filter": "isValid(datum.e)"}],
        "mark": {"type": "errorbar", "color": "#ff8c1a", "thickness": 1.5, "ticks": {"size": 6, "color": "#ff8c1a", "thickness": 1.5}, "clip": true},
        "encoding": {
         "x": {"field": "x", "type": "quantitative", "axis": {"orient": "bottom", "values": [0,0.1,0.2,0.3,0.4,0.5,0.6,0.7], "labelExpr": "round(datum.value*10)%2==0 ? format(datum.value,'.1f') : ''", "tickSize": -6, "labelPadding": 13, "title": "Energy Loss (eV)", "titlePadding": 5}},
         "y": {"field": "y", "type": "quantitative", "axis": {"orient": "left", "values": [0,0.01,0.02,0.03], "labelExpr": "(datum.value==0.01||datum.value==0.03) ? '' : format(datum.value,'.2f')", "tickSize": -6, "labelPadding": 10, "title": null}},
         "yError": {"field": "e"}
        }},
       {"data": {"name": "pd"}, "mark": {"type": "point", "shape": "circle", "size": 45, "filled": true, "fill": "white", "stroke": "black", "strokeWidth": 1.2, "opacity": 1, "clip": true}},
       {"data": {"values": [{}]}, "mark": {"type": "rule", "color": "black", "strokeWidth": 1.3},
        "encoding": {"y": {"datum": 0}}},
       {"data": {"values": [{}]}, "mark": {"type": "rule", "color": "black", "strokeWidth": 1.3},
        "encoding": {"x": {"datum": 0}, "y": {"datum": -0.003}, "y2": {"datum": 0.0218}}},
       {"data": {"values": [{}]}, "mark": {"type": "rule", "color": "#222222", "strokeWidth": 1},
        "encoding": {"x": {"datum": 0.787}}},
       {"data": {"values": [{}]}, "mark": {"type": "rule", "color": "#222222", "strokeWidth": 1},
        "encoding": {"y": {"datum": -0.00284}}},
       {"data": {"name": "ld"}, "mark": {"type": "line", "strokeWidth": 1.4, "interpolate": "monotone", "clip": true},
        "encoding": {"color": {"field": "k", "type": "nominal", "scale": {"domain": ["Total","Param.","Backgr."], "range": ["#000000","#ee82ee","#1fbf8f"]},
          "legend": {"orient": "none", "legendX": 37, "legendY": 2, "title": null, "symbolType": "M-3,0H3", "symbolSize": 144, "symbolStrokeWidth": 1.5, "labelFontSize": 16.5, "labelFont": "Liberation Sans", "labelColor": "black", "strokeColor": "black", "fillColor": "white", "padding": 3, "rowPadding": 3, "labelOffset": 12, "symbolOffset": 14}},
         "order": {"field": "x", "type": "quantitative"}}},
       {"data": {"values": [{"x": -0.071, "y": 0.0277, "t": "(d)"}]}, "mark": {"type": "text", "align": "left", "baseline": "middle", "fontSize": 23, "color": "black"}, "encoding": {"text": {"field": "t"}}},
       {"data": {"values": [{"x": 0.446, "y": 0.0298, "t": "NSNO 20%"}]}, "mark": {"type": "text", "align": "left", "baseline": "middle", "fontSize": 16.5, "color": "black"}, "encoding": {"text": {"field": "t"}}},
       {"data": {"values": [{"x": 0.45, "y": 0.0254, "t": "U = 11|t |"}]}, "mark": {"type": "text", "align": "left", "baseline": "middle", "fontSize": 16.5, "fontStyle": "italic", "color": "black"}, "encoding": {"text": {"field": "t"}}}
      ]
     },
     {"data": {"values": [{"x": 0, "y": 0}]}, "mark": {"type": "point", "opacity": 0},
      "encoding": {
       "x": {"field": "x", "type": "quantitative", "axis": null},
       "y": {"field": "y", "type": "quantitative", "axis": {"orient": "right", "values": [0,0.01,0.02,0.03], "labels": false, "tickSize": -5, "title": null}}
      }}
    ]
   }
  ]
 }
]
}
